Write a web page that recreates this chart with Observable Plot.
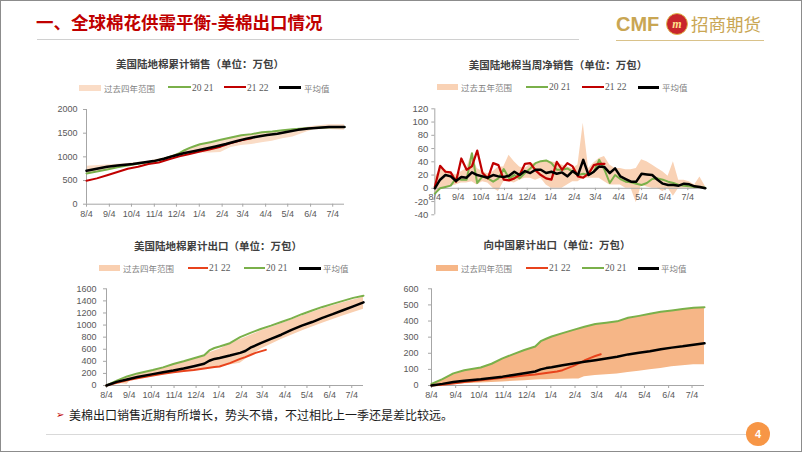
<!DOCTYPE html>
<html><head><meta charset="utf-8">
<script src="https://cdn.jsdelivr.net/npm/d3@7"></script>
<script src="https://cdn.jsdelivr.net/npm/@observablehq/plot@0.6"></script>
<style>
body{margin:0;background:#fff;}
#slide{position:relative;width:802px;height:452px;overflow:hidden;background:#fff;box-sizing:border-box;border:1px solid #8c8c8c;font-family:"Noto Sans CJK SC",sans-serif;}
#slide > *{position:absolute;}
.ctitle{font-weight:bold;font-size:10.5px;color:#404040;white-space:nowrap;transform:translate(-50%,-50%);}
.lgtxt{font-size:8.5px;color:#7f7f7f;white-space:nowrap;transform:translateY(-50%);}
.lgnum{font-family:"Liberation Serif",serif;font-size:9.5px;color:#595959;}
</style></head><body><div id="slide">
<div style="left:35px;top:8px;font-size:17.5px;font-weight:bold;color:#C00000;white-space:nowrap;line-height:26px;">一、全球棉花供需平衡-美棉出口情况</div>
<div style="left:36px;top:38px;width:542px;height:1px;background:#d0d0d0;"></div>
<div style="left:615px;top:9px;font-family:'Liberation Sans',sans-serif;font-weight:bold;font-size:20px;color:#C9A653;line-height:28px;">CMF</div>
<div style="left:665px;top:12px;width:20px;height:20px;border-radius:50%;background:#C8262C;border:1px solid #E0B84C;color:#FFE08A;font-family:'Liberation Serif',serif;font-style:italic;font-weight:bold;font-size:12px;line-height:20px;text-align:center;">m</div>
<div style="left:690px;top:9px;font-size:17.5px;color:#C9A653;line-height:28px;white-space:nowrap;">招商期货</div>
<div style="left:615px;top:39px;width:148px;height:1px;background:#D9C28A;"></div>
<div style="left:55px;top:405px;font-family:'DejaVu Sans',sans-serif;font-size:10px;color:#C00000;line-height:18px;">➢</div>
<div style="left:68px;top:405px;font-size:12px;color:#1a1a1a;line-height:18px;white-space:nowrap;">美棉出口销售近期有所增长，势头不错，不过相比上一季还是差比较远。</div>
<div style="left:45px;top:433px;width:700px;height:1px;background:#d9d9d9;"></div>
<div style="left:745px;top:421px;width:24px;height:24px;border-radius:50%;background:#F79646;color:#fff;font-family:'Liberation Sans',sans-serif;font-weight:bold;font-size:11px;line-height:24px;text-align:center;">4</div>
</div>
<script>
// ---------- shared ----------
const tickLabels = ["8/4","9/4","10/4","11/4","12/4","1/4","2/4","3/4","4/4","5/4","6/4","7/4"];
const seasonStart = "8/4";

// ---------- chart 1: 美国陆地棉累计销售 (week, value) ----------
const c1Title = "美国陆地棉累计销售（单位：万包）";
const c1Legend = ["过去四年范围", "20 21", "21 22", "平均值"];
const c1Band = [[0,640,800],[4,720,830],[8,810,860],[12,870,905],[16,960,1000],[18,1000,1080],[20,1060,1180],[22,1080,1260],[24,1080,1300],[26,1090,1355],[28,1200,1405],[30,1240,1450],[32,1260,1480],[34,1300,1515],[36,1330,1530],[38,1380,1555],[40,1420,1580],[42,1500,1610],[44,1570,1645],[47,1575,1680],[50,1560,1680]];
const c1Green = [[0,650],[2,690],[4,735],[6,780],[9,840],[11,870],[13,905],[15,960],[17,1030],[18,1080],[19,1140],[20,1190],[21,1230],[22,1265],[24,1310],[26,1360],[28,1410],[30,1455],[32,1480],[34,1520],[36,1535],[38,1560],[40,1585],[42,1600],[44,1610],[47,1625],[50,1630]];
const c1Red = [[0,495],[2,545],[4,610],[6,680],[8,750],[10,790],[12,850],[14,880],[16,950],[18,1010],[20,1060],[22,1110],[24,1160],[26,1215],[28,1290],[30,1350],[32,1390]];
const c1Avg = [[0,707],[2,750],[4,790],[6,815],[9,850],[11,880],[13,910],[15,960],[17,1025],[19,1080],[21,1125],[23,1170],[25,1220],[27,1270],[29,1330],[31,1385],[33,1425],[35,1460],[37,1490],[39,1530],[41,1570],[43,1600],[45,1615],[47,1630],[50,1632]];
const c1YTicks = [0,500,1000,1500,2000];

// ---------- chart 2: 美国陆地棉当周净销售 (weekly, index = week) ----------
const c2Title = "美国陆地棉当周净销售（单位：万包）";
const c2Legend = ["过去五年范围", "20 21", "21 22", "平均值"];
const c2BandHi = [15,30,28,24,20,25,30,53,30,25,22,25,32,32,50,40,32,30,36,38,40,42,40,38,35,32,30,35,98,30,38,45,48,35,30,30,28,28,30,43,40,35,30,25,18,40,12,12,10,5,17,3];
const c2BandLo = [-8,-2,0,3,5,8,8,10,5,10,8,0,-5,10,10,8,12,15,15,12,15,5,0,0,0,5,10,10,15,15,15,15,10,5,5,5,0,0,-22,5,2,0,0,-5,0,-12,0,0,0,0,0,0];
const c2Green = [-8,0,2,4,15,13,13,53,8,18,15,10,15,29,15,20,15,23,30,38,41,42,38,28,28,30,25,20,22,20,25,43,28,8,20,14,10,9,7,5,8,14,15,13,10,8,5,4,3,2,2,1];
const c2Red = [2,34,25,24,10,45,28,33,57,23,15,38,35,13,12,15,20,37,38,27,20,15,13,40,28,38,33,18,16,22,35,37,37];
const c2Avg = [0,13,20,18,11,17,16,24,20,18,16,20,18,17,19,25,20,26,23,28,28,23,25,22,24,18,26,20,43,20,25,33,32,23,30,18,14,10,10,22,21,20,13,7,5,5,4,7,6,3,2,0];
const c2YTicks = [-40,-20,0,20,40,60,80,100,120];

// ---------- chart 3: 美国陆地棉累计出口 ----------
const c3Title = "美国陆地棉累计出口（单位：万包）";
const c3Legend = ["过去四年范围", "21 22", "20 21", "平均值"];
const c3Band = [[0,0,0],[2,20,75],[3,30,110],[4,20,140],[5,110,165],[9,160,245],[13,205,345],[17,245,440],[19,270,490],[20,280,540],[22,300,600],[24,340,690],[26,370,760],[27,430,795],[30,600,900],[34,760,1020],[38,900,1150],[42,1030,1270],[46,1150,1370],[50,1260,1460]];
const c3Green = [[0,0],[2,80],[4,150],[6,200],[9,255],[11,300],[13,355],[15,400],[17,450],[19,500],[20,580],[21,620],[22,645],[24,700],[26,800],[28,870],[30,935],[32,990],[34,1050],[36,1110],[38,1180],[40,1240],[42,1300],[44,1350],[46,1400],[48,1450],[50,1485]];
const c3Red = [[0,0],[2,45],[4,85],[6,120],[9,166],[11,195],[13,220],[15,240],[17,258],[19,280],[21,305],[22,314],[24,370],[26,440],[27,470],[28,505],[29,540],[30,565],[31,590]];
const c3Avg = [[0,0],[2,60],[4,100],[6,140],[9,188],[11,220],[13,248],[15,280],[17,320],[19,360],[20,410],[21,440],[22,455],[24,495],[26,540],[27,570],[28,625],[30,700],[32,770],[34,840],[36,920],[38,990],[40,1050],[42,1120],[44,1180],[46,1245],[48,1310],[50,1375]];
const c3YTicks = [0,200,400,600,800,1000,1200,1400,1600];

// ---------- chart 4: 向中国累计出口 ----------
const c4Title = "向中国累计出口（单位：万包）";
const c4Legend = ["过去四年范围", "21 22", "20 21", "平均值"];
const c4Band = [[0,0,8],[2,4,38],[4,8,72],[6,11,93],[9,15,110],[11,18,133],[13,22,165],[15,26,192],[17,30,217],[19,34,238],[20,35,270],[21,36,287],[22,38,300],[24,39,322],[26,40,342],[27,40,352],[28,55,362],[30,62,378],[32,66,386],[34,72,395],[36,80,417],[38,88,430],[40,97,442],[42,106,455],[44,116,463],[46,122,472],[48,128,478],[50,128,480]];
const c4Green = [[0,10],[2,40],[4,75],[6,95],[9,112],[11,135],[13,168],[15,195],[17,220],[19,242],[20,275],[21,290],[22,304],[24,325],[26,345],[28,365],[30,382],[32,390],[34,398],[36,420],[38,432],[40,445],[42,458],[44,466],[46,475],[48,482],[50,485]];
const c4Red = [[0,0],[2,5],[4,12],[6,22],[9,32],[11,40],[13,48],[15,55],[17,62],[19,68],[21,78],[23,87],[24,95],[26,122],[27,137],[28,155],[29,170],[30,183],[31,194]];
const c4Avg = [[0,0],[2,10],[4,22],[6,30],[9,39],[11,47],[13,55],[15,65],[17,76],[19,87],[20,100],[21,108],[22,113],[24,125],[26,137],[28,147],[30,157],[32,167],[34,178],[36,193],[38,203],[40,213],[42,225],[44,235],[46,243],[48,253],[50,262]];
const c4YTicks = [0,100,200,300,400,500,600];

// ---------- helpers ----------
const toDate = s => { const [m, d] = s.split("/").map(Number); return new Date(Date.UTC(m >= 8 ? 2021 : 2022, m - 1, d)); };
const start = toDate(seasonStart);
const wk = w => d3.utcDay.offset(start, 7 * w);
const tickDates = tickLabels.map(toDate);
const labelOf = new Map(tickDates.map((d, i) => [+d, tickLabels[i]]));
const pairs = a => a.map(([w, v]) => ({date: wk(w), v}));
const weekly = a => a.map((v, w) => ({date: wk(w), v}));
const triples = a => a.map(([w, lo, hi]) => ({date: wk(w), lo, hi}));

const GREEN = "#7AB04A", BLACK = "#000000";
const slide = document.getElementById("slide");

function place(el, left, top) {
  el.style.position = "absolute"; el.style.left = left + "px"; el.style.top = top + "px";
  slide.appendChild(el);
}

function makeChart(c) {
  const marks = [
    Plot.areaY(c.band, {x: "date", y1: "lo", y2: "hi", fill: c.bandColor}),
    Plot.ruleY([0], {stroke: "#a6a6a6", strokeWidth: 1}),
    Plot.ruleX([start], {y1: c.yDomain[0], y2: c.yDomain[1], stroke: "#a6a6a6", strokeWidth: 1}),
    Plot.axisY({ticks: c.yTicks, tickSize: 3, tickPadding: c.yPad, tickFormat: d => String(d), label: null, stroke: "#a6a6a6", fill: "#595959", fontSize: c.yFont}),
  ];
  if (c.innerX) {
    marks.push(Plot.ruleX(tickDates, {x: d => d, y1: () => 0, y2: () => -3.5, stroke: "#a6a6a6"}));
    marks.push(Plot.text(tickDates, {x: d => d, y: () => 0, dy: 8.5, text: d => labelOf.get(+d), fill: "#595959", fontSize: 9}));
  } else {
    marks.push(Plot.axisX({ticks: tickDates, tickSize: 3, tickPadding: 3, tickFormat: d => labelOf.get(+d), label: null, stroke: "#a6a6a6", fill: "#595959", fontSize: 9}));
  }
  for (const s of c.series) {
    marks.push(Plot.line(s.data, {x: "date", y: "v", stroke: s.color, strokeWidth: s.width}));
  }
  const svg = Plot.plot({
    width: c.width, height: c.height,
    marginLeft: c.ml, marginRight: c.mr, marginTop: c.mt, marginBottom: c.mb,
    x: {type: "utc", domain: [start, wk(c.xEndWeek)], axis: null},
    y: {domain: c.yDomain, axis: null},
    style: {fontFamily: "'Liberation Sans', Arial, sans-serif", fontSize: "9px", color: "#595959", background: "transparent", overflow: "visible"},
    marks
  });
  place(svg, c.left, c.top);
}

function addTitle(text, cx, cy) {
  const d = document.createElement("div");
  d.className = "ctitle"; d.textContent = text;
  place(d, cx, cy);
}

function addLegend(y, items) {
  for (const it of items) {
    const sw = document.createElement("div");
    sw.style.width = (it.x1 - it.x0) + "px";
    sw.style.height = it.kind === "band" ? "6px" : (it.color === BLACK ? "3px" : "2.2px");
    sw.style.background = it.color;
    place(sw, it.x0, y - (it.kind === "band" ? 3 : 1.2));
    const t = document.createElement("div");
    t.className = "lgtxt" + (/^\d/.test(it.label) ? " lgnum" : "");
    t.textContent = it.label;
    place(t, it.tx, y);
  }
}

// ---------- chart 1 ----------
const RED1 = "#C00000";
makeChart({
  left: 40, top: 100, width: 313, height: 123, ml: 45, mr: 10, mt: 8, mb: 20.3,
  xEndWeek: 50, yDomain: [0, 2000], yTicks: c1YTicks, yPad: 6, yFont: 9,
  band: triples(c1Band), bandColor: "#FADCC6",
  series: [
    {data: pairs(c1Green), color: GREEN, width: 2},
    {data: pairs(c1Red), color: RED1, width: 2},
    {data: pairs(c1Avg), color: BLACK, width: 2.5}
  ]
});
addTitle(c1Title, 199, 62);
addLegend(86.5, [
  {kind: "band", color: "#FADCC6", x0: 78, x1: 100, tx: 103, label: c1Legend[0]},
  {kind: "line", color: GREEN, x0: 167, x1: 190, tx: 191, label: c1Legend[1]},
  {kind: "line", color: RED1, x0: 223, x1: 245, tx: 246, label: c1Legend[2]},
  {kind: "line", color: BLACK, x0: 278, x1: 300, tx: 303, label: c1Legend[3]}
]);

// ---------- chart 2 ----------
makeChart({
  left: 395, top: 100, width: 319, height: 121.3, ml: 38.3, mr: 8, mt: 7.3, mb: 8,
  xEndWeek: 51.5, yDomain: [-40, 120], yTicks: c2YTicks, yPad: 3.6, yFont: 9.5, innerX: true,
  band: c2BandLo.map((lo, w) => ({date: wk(w), lo, hi: c2BandHi[w]})), bandColor: "#F9D2B5",
  series: [
    {data: weekly(c2Green), color: GREEN, width: 2},
    {data: weekly(c2Red), color: RED1, width: 2.2},
    {data: weekly(c2Avg), color: BLACK, width: 2.5}
  ]
});
addTitle(c2Title, 557, 62.5);
addLegend(86, [
  {kind: "band", color: "#F9D2B5", x0: 436, x1: 457, tx: 460, label: c2Legend[0]},
  {kind: "line", color: GREEN, x0: 525, x1: 547, tx: 548, label: c2Legend[1]},
  {kind: "line", color: RED1, x0: 581, x1: 603, tx: 604, label: c2Legend[2]},
  {kind: "line", color: BLACK, x0: 637, x1: 658, tx: 661, label: c2Legend[3]}
]);

// ---------- chart 3 ----------
const RED2 = "#E8431C";
makeChart({
  left: 60, top: 280, width: 310, height: 124, ml: 45, mr: 8, mt: 7.3, mb: 20,
  xEndWeek: 50, yDomain: [0, 1600], yTicks: c3YTicks, yPad: 7, yFont: 9,
  band: triples(c3Band), bandColor: "#F9CFB0",
  series: [
    {data: pairs(c3Green), color: GREEN, width: 2},
    {data: pairs(c3Red), color: RED2, width: 2},
    {data: pairs(c3Avg), color: BLACK, width: 2.5}
  ]
});
addTitle(c3Title, 217, 243.5);
addLegend(267.3, [
  {kind: "band", color: "#F9CFB0", x0: 98, x1: 119, tx: 122, label: c3Legend[0]},
  {kind: "line", color: RED2, x0: 187, x1: 207, tx: 208, label: c3Legend[1]},
  {kind: "line", color: GREEN, x0: 243, x1: 264, tx: 265, label: c3Legend[2]},
  {kind: "line", color: BLACK, x0: 298, x1: 320, tx: 322, label: c3Legend[3]}
]);

// ---------- chart 4 ----------
makeChart({
  left: 395, top: 280, width: 316, height: 124, ml: 35, mr: 8, mt: 7.3, mb: 20,
  xEndWeek: 50, yDomain: [0, 600], yTicks: c4YTicks, yPad: 10, yFont: 9,
  band: triples(c4Band), bandColor: "#F6B687",
  series: [
    {data: pairs(c4Green), color: GREEN, width: 2},
    {data: pairs(c4Red), color: RED2, width: 2},
    {data: pairs(c4Avg), color: BLACK, width: 2.5}
  ]
});
addTitle(c4Title, 556, 242.5);
addLegend(267.3, [
  {kind: "band", color: "#F6B687", x0: 435, x1: 457, tx: 460, label: c4Legend[0]},
  {kind: "line", color: RED2, x0: 525, x1: 547, tx: 548, label: c4Legend[1]},
  {kind: "line", color: GREEN, x0: 581, x1: 603, tx: 604, label: c4Legend[2]},
  {kind: "line", color: BLACK, x0: 637, x1: 658, tx: 660, label: c4Legend[3]}
]);
</script>
</body></html>
